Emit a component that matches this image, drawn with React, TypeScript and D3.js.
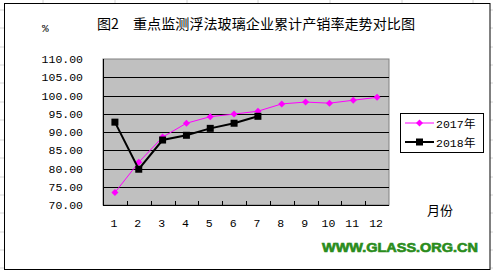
import React from "react";
import * as d3 from "d3";

const months = ["1", "2", "3", "4", "5", "6", "7", "8", "9", "10", "11", "12"];
const values2017 = [73.4, 81.7, 88.6, 92.4, 94.2, 94.9, 95.7, 97.7, 98.2, 97.9, 98.7, 99.5];
const values2018 = [92.7, 79.8, 87.8, 89.1, 91.0, 92.4, 94.3];
const yTicks = [70, 75, 80, 85, 90, 95, 100, 105, 110];
const seriesNames = ["2017年", "2018年"];
const title = "图2　重点监测浮法玻璃企业累计产销率走势对比图";

export default function App() {
  const W = 493, H = 271;
  const L = 103, R = 389, T = 59, B = 205;
  const x = d3.scaleBand().domain(months).range([L, R]);
  const y = d3.scaleLinear().domain([70, 110]).range([B, T]);
  const cx = (i: number) => (x(months[i]) as number) + x.bandwidth() / 2;
  const line = d3.line<number>().x((_, i) => cx(i)).y((d) => y(d));
  const numFont = "'Liberation Mono', 'DejaVu Sans Mono', monospace";
  const cjk = "'Noto Sans CJK SC', sans-serif";

  const diamond = (px: number, py: number, s = 3.5) =>
    `M${px},${py - s}L${px + s},${py}L${px},${py + s}L${px - s},${py}Z`;

  const cellX = [43, 115, 187, 258, 330, 402, 473];
  const cellY = [10, 28, 47, 65, 83, 102, 120, 140, 158, 177, 195, 213, 232, 250, 268];

  return (
    <svg width={W} height={H} style={{ position: "absolute", left: 0, top: 0, background: "#fff" }}>
      {cellX.map((cxv) => (
        <line key={"cx" + cxv} x1={cxv} x2={cxv} y1={0} y2={3} stroke="#d4d4d4" />
      ))}
      {cellY.map((cy) => (
        <g key={"cy" + cy}>
          <line x1={0} x2={4} y1={cy} y2={cy} stroke="#d4d4d4" />
          <line x1={490} x2={493} y1={cy} y2={cy} stroke="#d4d4d4" />
        </g>
      ))}
      <rect x={4.5} y={3.5} width={485.5} height={266} fill="#fff" stroke="#000" />

      <text x={97} y={29} fontFamily={cjk} fontSize={14} fill="#000" textLength={318} lengthAdjust="spacingAndGlyphs">
        {title}
      </text>
      <text x={42} y={32} fontFamily={numFont} fontSize={11} fill="#000">%</text>

      <rect x={L} y={T} width={R - L} height={B - T} fill="#c0c0c0" stroke="#808080" />
      {yTicks.slice(1, -1).map((t) => (
        <line key={"g" + t} x1={L} x2={R} y1={Math.round(y(t)) + 0.5} y2={Math.round(y(t)) + 0.5} stroke="#000" />
      ))}
      <line x1={L + 0.5} x2={L + 0.5} y1={T} y2={B} stroke="#000" />
      <line x1={L} x2={R} y1={B + 0.5} y2={B + 0.5} stroke="#000" />
      {months.map((m, i) =>
        i === 0 ? null : (
          <line key={"t" + m} x1={Math.round(x(m) as number) + 0.5} x2={Math.round(x(m) as number) + 0.5} y1={B - 4} y2={B} stroke="#000" />
        )
      )}
      {yTicks.map((t) => (
        <text key={"yl" + t} x={83} y={y(t) + 4} textAnchor="end" fontFamily={numFont} fontSize={11.5} fill="#000">
          {t.toFixed(2)}
        </text>
      ))}
      {months.map((m, i) => (
        <text key={"xl" + m} x={cx(i) - 1} y={227} textAnchor="middle" fontFamily={numFont} fontSize={11.5} fill="#000">
          {m}
        </text>
      ))}

      <path d={line(values2017) || ""} fill="none" stroke="#ff00ff" strokeWidth={1} />
      {values2017.map((v, i) => (
        <path key={"d" + i} d={diamond(cx(i), y(v))} fill="#ff00ff" />
      ))}
      <path d={line(values2018) || ""} fill="none" stroke="#000" strokeWidth={2} />
      {values2018.map((v, i) => (
        <rect key={"s" + i} x={cx(i) - 3.5} y={y(v) - 3.5} width={7} height={7} fill="#000" />
      ))}

      <rect x={400.5} y={113.5} width={83} height={39} fill="#fff" stroke="#000" />
      <line x1={405} x2={434} y1={123} y2={123} stroke="#ff00ff" />
      <path d={diamond(419.5, 123)} fill="#ff00ff" />
      <text x={436} y={127.5} fontFamily={numFont} fontSize={11.5} fill="#000">{seriesNames[0].slice(0, 4)}</text>
      <text x={464} y={127.5} fontFamily={cjk} fontSize={11.5} fill="#000">{seriesNames[0].slice(4)}</text>
      <line x1={405} x2={434} y1={142} y2={142} stroke="#000" strokeWidth={2} />
      <rect x={416} y={138.5} width={7} height={7} fill="#000" />
      <text x={436} y={146.5} fontFamily={numFont} fontSize={11.5} fill="#000">{seriesNames[1].slice(0, 4)}</text>
      <text x={464} y={146.5} fontFamily={cjk} fontSize={11.5} fill="#000">{seriesNames[1].slice(4)}</text>

      <text x={440} y={215} textAnchor="middle" fontFamily={cjk} fontSize={13} fill="#000">月份</text>
      <text x={322} y={252} fontFamily="'Liberation Sans', Arial, sans-serif" fontWeight="900" fontSize={12} fill="#2a8c1c"
        textLength={156} lengthAdjust="spacingAndGlyphs" stroke="#2a8c1c" strokeWidth={0.6}>
        WWW.GLASS.ORG.CN
      </text>
    </svg>
  );
}
